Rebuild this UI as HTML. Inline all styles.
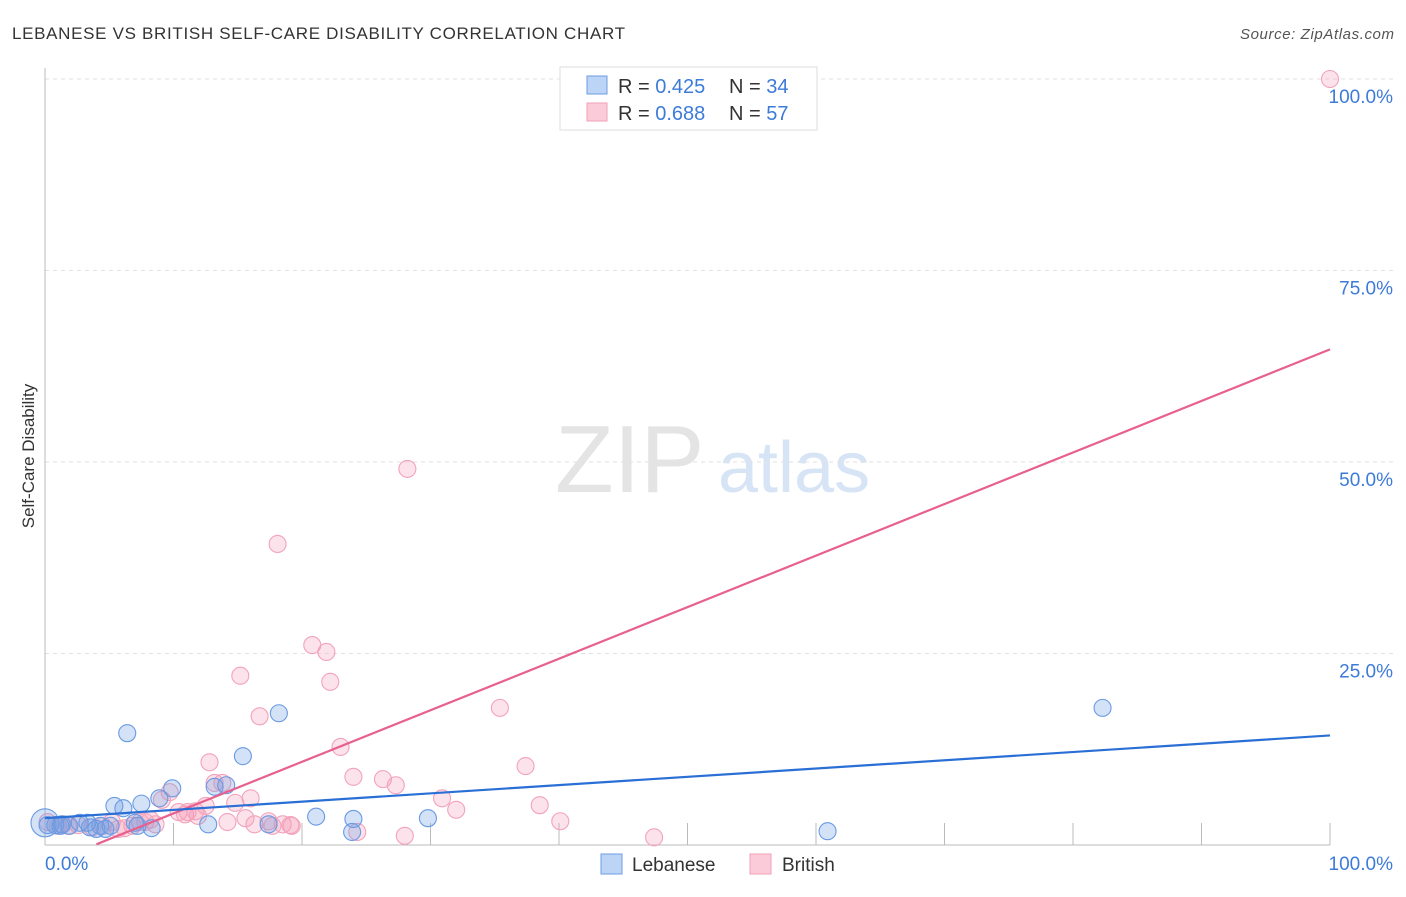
<!DOCTYPE html>
<html><head><meta charset="utf-8"><style>
body{margin:0;background:#fff;font-family:"Liberation Sans",sans-serif}
svg text{font-family:"Liberation Sans",sans-serif}
</style></head><body>
<svg id="chart" width="1406" height="892">
<text x="12" y="39" font-size="17" fill="#333" textLength="613">LEBANESE VS BRITISH SELF-CARE DISABILITY CORRELATION CHART</text>
<text x="1394" y="39" font-size="15" fill="#555" font-style="italic" text-anchor="end" textLength="154">Source: ZipAtlas.com</text>
<text x="555" y="492" font-size="96" fill="#e4e4e4" font-family="Liberation Serif,serif">ZIP</text>
<text x="718" y="492" font-size="72" fill="#d6e4f6">atlas</text>
<g id="grid"></g>
<line x1="45" y1="68" x2="45" y2="845" stroke="#bbb"/>
<line x1="45" y1="845" x2="1330" y2="845" stroke="#bbb"/>
<text transform="translate(34,456) rotate(-90)" font-size="17" fill="#333" text-anchor="middle">Self-Care Disability</text>
<text x="45" y="870" font-size="19" fill="#3d7bd9">0.0%</text>
<text x="1393" y="870" font-size="19" fill="#3d7bd9" text-anchor="end">100.0%</text>
<g id="pts"></g>
<g id="lines"></g>
<g>
<rect x="560" y="67" width="257" height="63" fill="#fff" stroke="#ddd"/>
<rect x="587" y="76" width="20" height="18" fill="#bcd4f5" stroke="#6b9de3"/>
<rect x="587" y="103" width="20" height="18" fill="#fbcbd9" stroke="#f0a0b8"/>
<text x="618" y="93" font-size="20" fill="#333">R = <tspan fill="#3d7bd9">0.425</tspan></text>
<text x="729" y="93" font-size="20" fill="#333">N = <tspan fill="#3d7bd9">34</tspan></text>
<text x="618" y="120" font-size="20" fill="#333">R = <tspan fill="#3d7bd9">0.688</tspan></text>
<text x="729" y="120" font-size="20" fill="#333">N = <tspan fill="#3d7bd9">57</tspan></text>
</g>
<g>
<rect x="601" y="854" width="21" height="20" fill="#bcd4f5" stroke="#6b9de3"/>
<text x="632" y="871" font-size="19" fill="#333">Lebanese</text>
<rect x="750" y="854" width="21" height="20" fill="#fbcbd9" stroke="#f0a0b8"/>
<text x="782" y="871" font-size="19" fill="#333">British</text>
</g>
</svg>
<script>
const yTicks=[25,50,75,100];
const yTickLabels=["25.0%","50.0%","75.0%","100.0%"];
const xTicks=[10,20,30,40,50,60,70,80,90,100];
const lebX=[0.2,0.8,1.3,1.9,2.7,3.5,4.3,4.7,5.4,6.1,6.4,7.0,7.5,8.3,8.9,9.9,12.7,13.2,14.1,15.4,17.4,18.2,21.1,23.9,24.0,29.8,82.3,60.9,1.2,3.3,4.0,5.1,7.2,0];
const lebY=[2.6,2.6,2.7,2.5,2.9,2.3,2.5,2.1,5.1,4.8,14.6,2.9,5.4,2.2,6.1,7.4,2.7,7.6,7.8,11.6,2.7,17.2,3.7,1.7,3.4,3.5,17.9,1.8,2.5,2.9,2.1,2.5,2.5,2.9];
const briX=[0.2,1.0,1.8,2.6,3.7,4.5,5.2,6.2,6.8,7.8,8.2,9.1,9.7,10.4,10.9,11.7,12.5,12.8,13.2,13.8,14.2,14.8,15.2,16.0,16.3,16.7,17.4,18.1,18.5,19.1,20.8,21.9,22.2,23.0,24.0,24.3,26.3,27.3,28.0,28.2,30.9,32.0,35.4,37.4,38.5,40.1,47.4,100,5.7,7.4,8.6,11.1,11.9,15.6,17.7,19.2,1.4];
const briY=[3.0,2.5,2.5,2.6,2.3,2.5,3.0,2.2,2.5,3.0,3.3,5.9,6.9,4.3,4.0,4.4,5.1,10.8,8.1,8.1,3.0,5.5,22.1,6.1,2.7,16.8,3.1,39.3,2.7,2.6,26.1,25.2,21.3,12.8,8.9,1.7,8.6,7.8,1.2,49.1,6.1,4.6,17.9,10.3,5.2,3.1,1.0,100,2.1,3.0,2.7,4.3,3.8,3.5,2.5,2.5,2.7];
const lebLine=[3.5,14.3];
const briLine=[-2.6,64.7];
const NS="http://www.w3.org/2000/svg";
const xs=v=>45+v*12.85, ys=v=>845-v*7.66;
function mk(tag,attrs,parent){const e=document.createElementNS(NS,tag);for(const k in attrs)e.setAttribute(k,attrs[k]);parent.appendChild(e);return e;}
const grid=document.getElementById('grid');
yTicks.forEach((t,i)=>{
 const l=mk('line',{x1:45,x2:1395,y1:ys(t),y2:ys(t),stroke:'#e2e2e2','stroke-dasharray':'4,4'},grid);
 
 
 const tx=mk('text',{x:1393,y:ys(t)+24,'font-size':19,fill:'#3d7bd9','text-anchor':'end'},grid);
 tx.textContent=yTickLabels[i];
 
 
});
xTicks.forEach(t=>{
 const l=mk('line',{x1:xs(t),x2:xs(t),y1:823,y2:845,stroke:'#bbb'},grid);
 
 
});
const pts=document.getElementById('pts');
function drawPts(X,Y,fill,stroke,name){
 X.forEach((x,i)=>{
  const r=(x===0)?14:8.5;
  const c=mk('circle',{cx:xs(x),cy:ys(Y[i]),r:r,fill:fill,stroke:stroke,'stroke-width':1.1},pts);
  
  
 });
}
drawPts(briX,briY,'rgba(245,160,185,0.3)','#f2a3bb','british-point');
drawPts(lebX,lebY,'rgba(110,160,230,0.3)','#6a9ae2','lebanese-point');
const lines=document.getElementById('lines');
const bx0=4;
const bl=mk('line',{x1:xs(bx0),y1:ys(briLine[0]+(briLine[1]-briLine[0])*bx0/100),x2:xs(100),y2:ys(briLine[1]),stroke:'#e8608e','stroke-width':2.2},lines);


const ll=mk('line',{x1:xs(0),y1:ys(lebLine[0]),x2:xs(100),y2:ys(lebLine[1]),stroke:'#2a6fd6','stroke-width':2.2},lines);


</script>
</body></html>
